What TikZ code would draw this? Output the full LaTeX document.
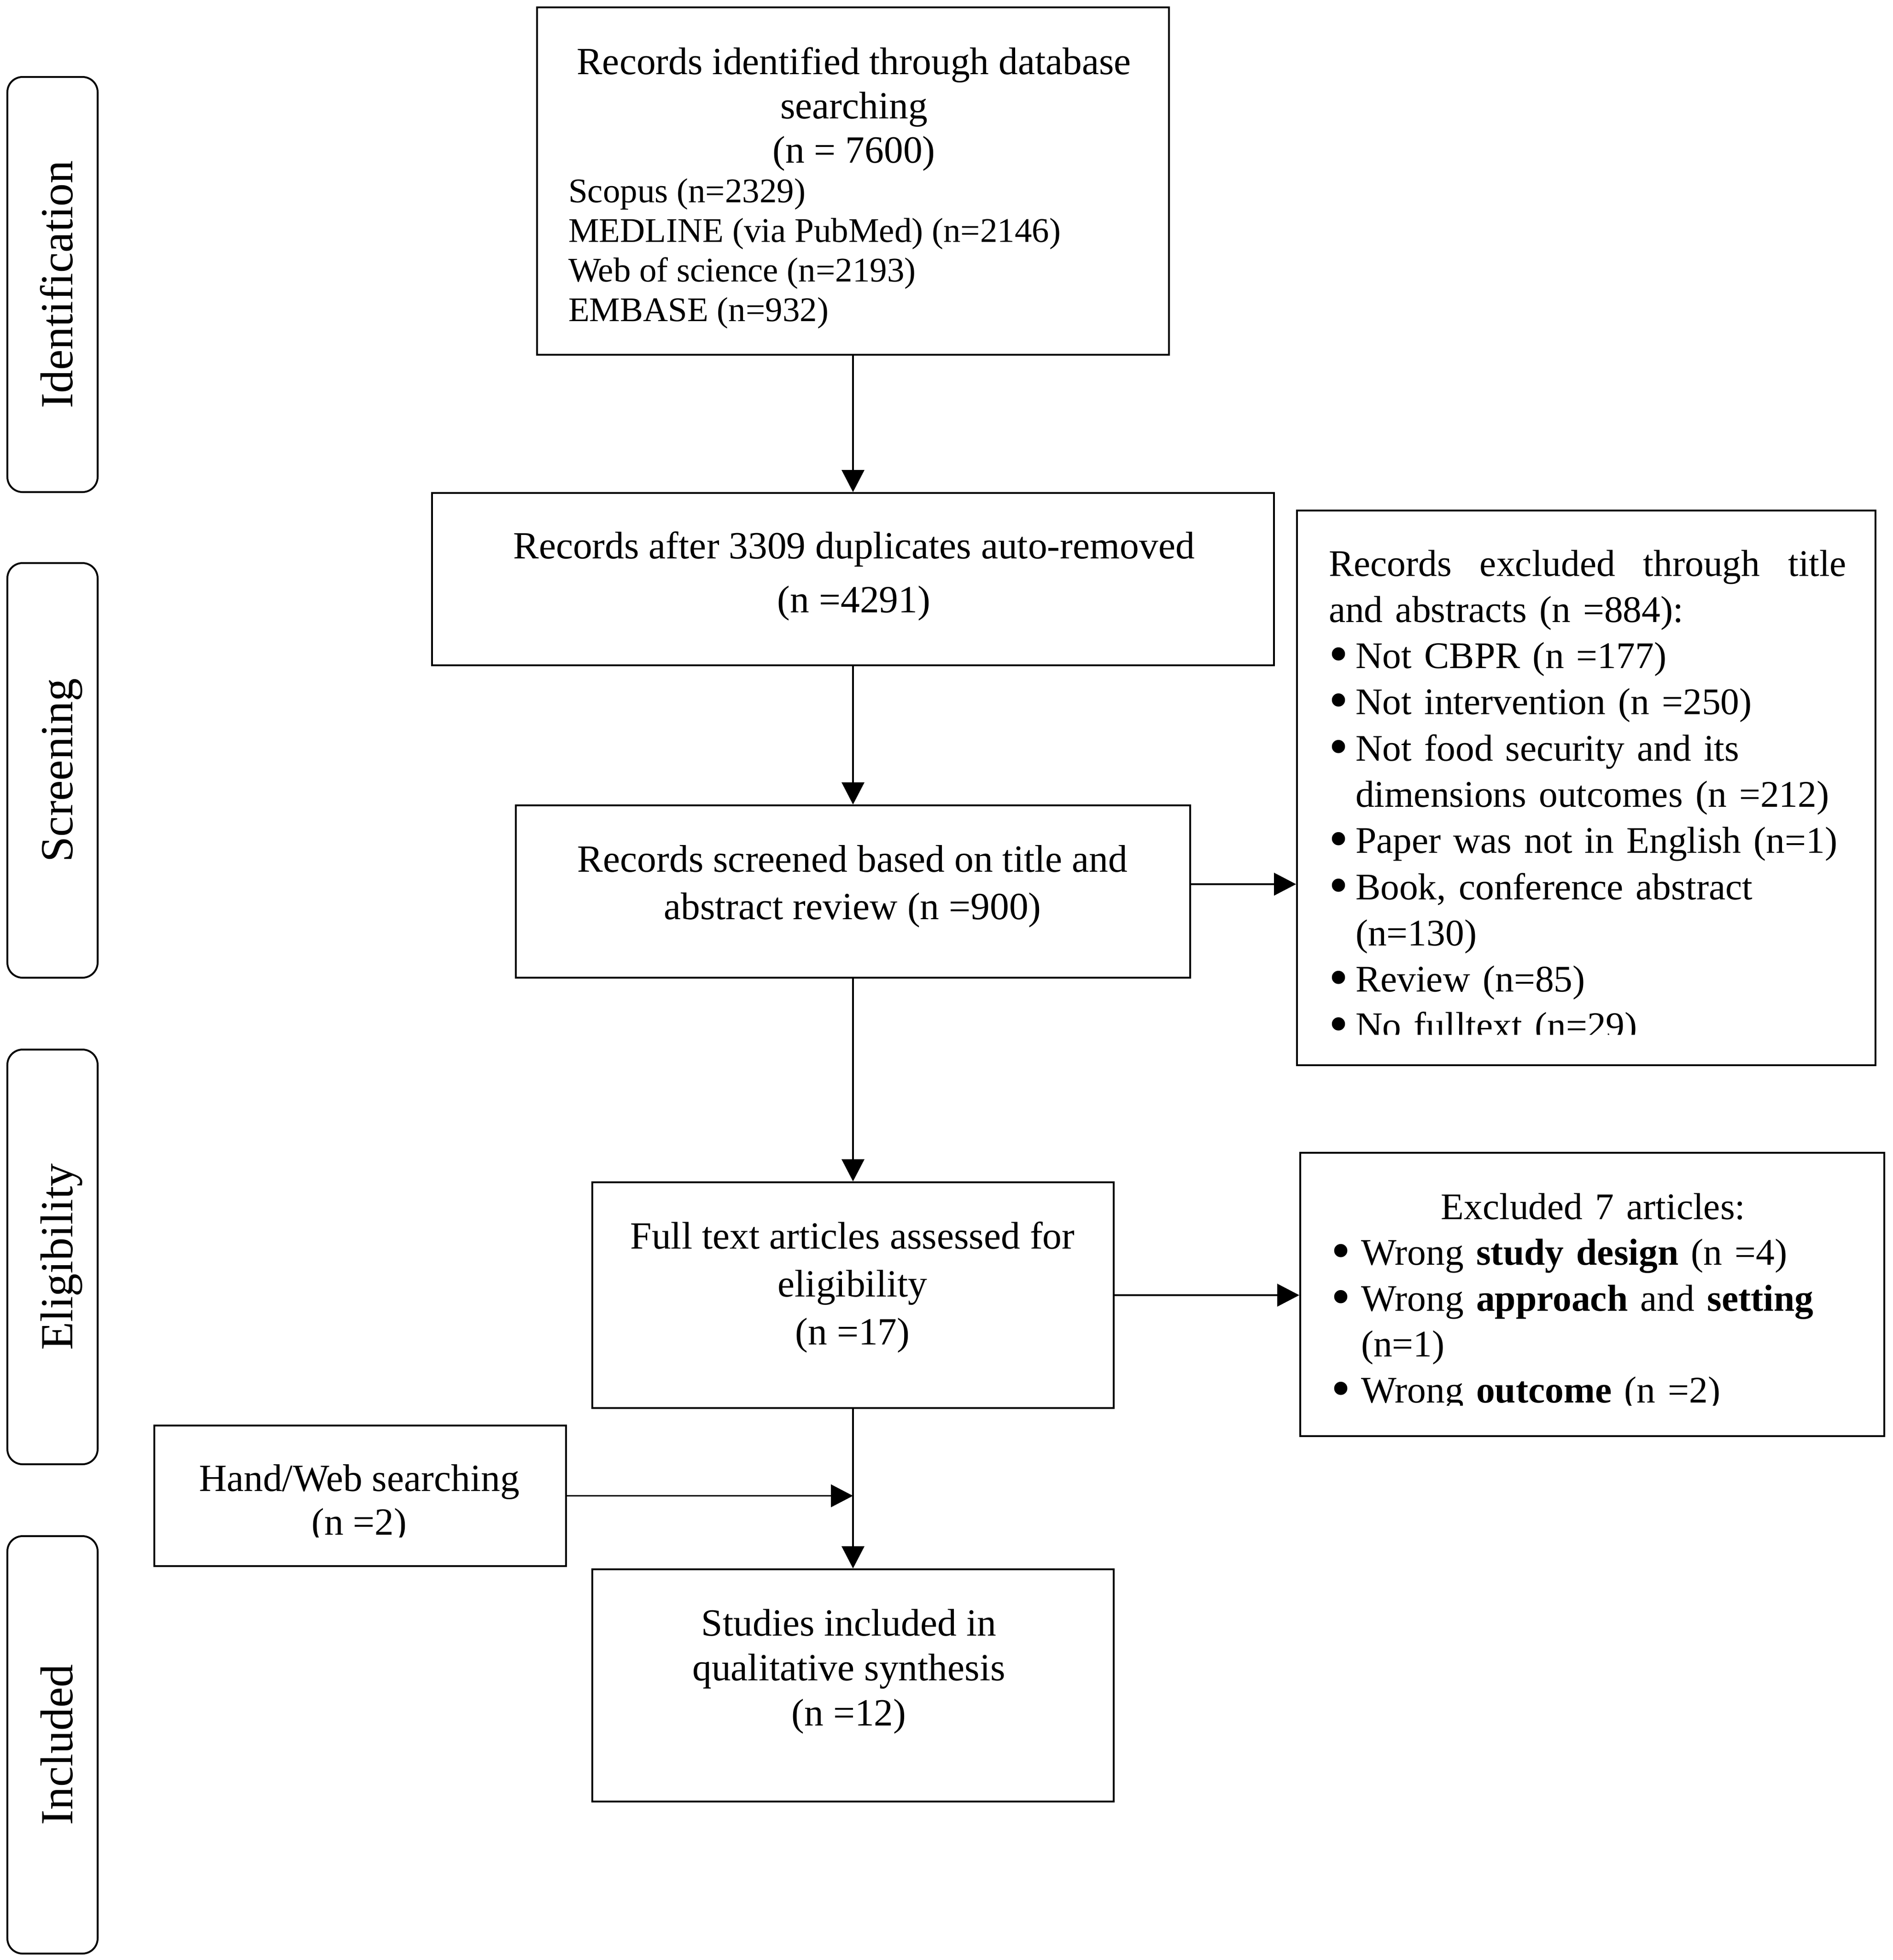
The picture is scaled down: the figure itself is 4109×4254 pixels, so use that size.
\documentclass[tikz,border=0pt]{standalone}
\usepackage{fontspec}
\setmainfont{Liberation Serif}
\usetikzlibrary{arrows.meta,calc}
\newcommand\bigdot{\raisebox{-1.8pt}{\fontsize{24}{24}\selectfont\textbullet}}
\newcommand\blA{\makebox[11.6pt][l]{\bigdot}}
\newcommand\inA{\hspace*{11.6pt}}
\newcommand\blB{\makebox[13pt][l]{\bigdot}}
\newcommand\inB{\hspace*{13pt}}
\begin{document}
\begin{tikzpicture}[x=0.2pt,y=-0.2pt,
  box/.style={draw, line width=0.8pt, rectangle, inner sep=0pt},
  phase/.style={draw, line width=0.8pt, rounded corners=6.6pt, minimum width=39.2pt, inner sep=0pt},
  phaselabel/.style={rotate=90, anchor=base, inner sep=0pt, font=\fontsize{20}{24}\selectfont},
  txt/.style={inner sep=0pt},
  arr/.style={line width=0.7pt, -{Triangle[length=9.6pt,width=9.8pt]}}
]
\useasboundingbox (0,0) rectangle (4109,4254);

% phase boxes
\node[phase, minimum height=180.2pt] (pI) at (114,617.5) {};
\node[phaselabel] (tI) at (157,617.5) {Identification};
\node[phase, minimum height=180pt] (pS) at (114,1672) {};
\node[phaselabel] (tS) at (157,1672) {Screening};
\node[phase, minimum height=180pt] (pE) at (114,2728) {};
\node[phaselabel] (tE) at (157,2728) {Eligibility};
\node[phase, minimum height=181.2pt] (pN) at (114,3787) {};
\node[phaselabel] (tN) at (157,3787) {Included};

% main boxes (multi-line text anchored at the baseline of its last line)
\node[box, minimum width=274.4pt, minimum height=150.8pt] (b1) at (1852,393) {};
\node[txt, align=center, anchor=base, font=\fontsize{16.7}{19.2}\selectfont] (t1) at (1854,353)
  {Records identified through database\\searching\\(n = 7600)};
\node[txt, align=left, anchor=base west, font=\fontsize{15}{17.2}\selectfont] (t1b) at (1233,697)
  {Scopus (n=2329)\\MEDLINE (via PubMed) (n=2146)\\Web of science (n=2193)\\EMBASE (n=932)};

\node[box, minimum width=365.4pt, minimum height=74.8pt] (b2) at (1852,1257) {};
\node[txt, align=center, anchor=base, font=\fontsize{16.7}{23.4}\selectfont] (t2) at (1854,1329)
  {Records after 3309 duplicates auto-removed\\(n =4291)};

\node[box, minimum width=292.8pt, minimum height=74.8pt] (b3) at (1852,1935) {};
\node[txt, align=center, anchor=base, font=\fontsize{16.7}{20.6}\selectfont] (t3) at (1851,1995)
  {Records screened based on title and\\abstract review (n =900)};

\node[box, minimum width=226.4pt, minimum height=98pt] (b4) at (1852,2811) {};
\node[txt, align=center, anchor=base, font=\fontsize{16.7}{20.8}\selectfont] (t4) at (1851,2918)
  {Full text articles assessed for\\eligibility\\(n =17)};

\node[box, minimum width=226.4pt, minimum height=100.8pt] (b5) at (1852,3658) {};
\node[txt, align=center, anchor=base, font=\fontsize{16.7}{19.5}\selectfont] (t5) at (1843,3745)
  {Studies included in\\qualitative synthesis\\(n =12)};

% hand search
\node[box, minimum width=178.8pt, minimum height=61pt] (hand) at (782,3246.5) {};
\begin{scope}
\clip (335,3094) rectangle (1229,3336);
\node[txt, align=center, anchor=base, font=\fontsize{16.7}{19}\selectfont] (th) at (780,3331)
  {Hand/Web searching\\(n =2)};
\end{scope}

% exclusion boxes (text width nodes: anchored at first baseline)
\node[box, minimum width=251.2pt, minimum height=240.8pt] (e1) at (3444,1710) {};
\begin{scope}
\clip (2816,1108) rectangle (4072,2245);
\node[txt, text width=260pt, align=left, anchor=base west, font=\fontsize{16.3}{20.06}\selectfont] (te1) at (2884,1250)
  {\hbox to 224.8pt{Records\hfill excluded\hfill through\hfill title}\\
   and abstracts (n =884):\\
   \blA Not CBPR (n =177)\\
   \blA Not intervention (n =250)\\
   \blA Not food security and its\\
   \inA dimensions outcomes (n =212)\\
   \blA Paper was not in English (n=1)\\
   \blA Book, conference abstract\\
   \inA (n=130)\\
   \blA Review (n=85)\\
   \blA No fulltext (n=29)};
\end{scope}

\node[box, minimum width=253.6pt, minimum height=123pt] (e2) at (3457,2809.5) {};
\begin{scope}
\clip (2823,2502) rectangle (4091,3050);
\node[txt, text width=250pt, align=left, anchor=base west, font=\fontsize{16.3}{19.9}\selectfont] (te2) at (2889,2646)
  {\hbox to 227.6pt{\hfil Excluded 7 articles:\hfil}\\
   \blB Wrong \textbf{study design} (n =4)\\
   \blB Wrong \textbf{approach} and \textbf{setting}\\
   \inB (n=1)\\
   \blB Wrong \textbf{outcome} (n =2)};
\end{scope}

% connectors
\draw[arr] (b1.south) -- (b2.north);
\draw[arr] (b2.south) -- (b3.north);
\draw[arr] ([yshift=3.2pt]b3.east) -- ([yshift=3.2pt]b3.east -| e1.west);
\draw[arr] (b3.south) -- (b4.north);
\draw[arr] (b4.east) -- (b4.east -| e2.west);
\draw[arr] (b4.south) -- (b5.north);
\draw[arr] (hand.east) -- (hand.east -| b4.south);
\end{tikzpicture}
\end{document}
